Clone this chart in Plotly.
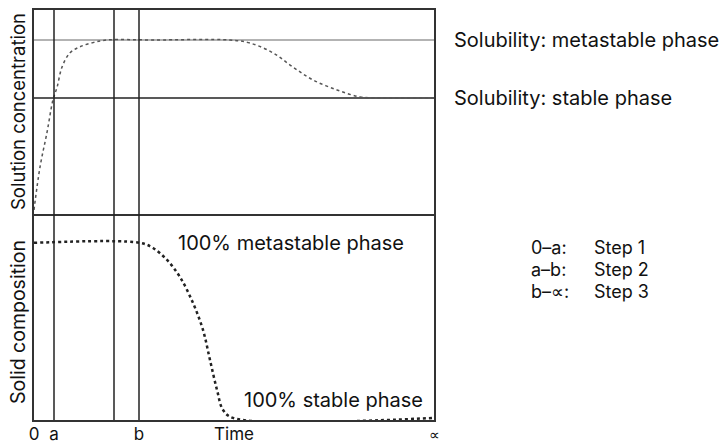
import plotly.graph_objects as go

# ---- data ----
conc_time = [0, 1.5, 3.25, 4.75, 5.75, 7, 9, 11.5, 14.75, 18.25, 30, 49, 54, 59.75, 64.75, 69.75, 75.75, 81.5, 86.5, 100]
conc_value = [0.02, 0.23, 0.40, 0.56, 0.62, 0.72, 0.79, 0.82, 0.84, 0.853, 0.853, 0.853, 0.838, 0.79, 0.72, 0.657, 0.608, 0.574, 0.569, 0.569]

solid_time = [0, 26.5, 29.75, 33.25, 36.5, 39.75, 42.25, 44, 45.75, 47.25, 49.75, 100]
solid_value = [0.86, 0.86, 0.835, 0.777, 0.694, 0.568, 0.437, 0.291, 0.146, 0.049, 0.01, 0.01]

solubility_metastable = 0.853
solubility_stable = 0.569

marker_times = [5, 20, 26.25]
tick_positions = [0, 5, 26.25, 50, 100]
tick_labels = ["0", "a", "b", "Time", "<span style='font-size:15px'>∝</span>"]

step_keys = ["0–a:", "a–b:", "b–∝:"]
step_names = ["Step 1", "Step 2", "Step 3"]

FONT = "Inter, Liberation Sans, Arial, sans-serif"
split = 206 / 410

fig = go.Figure()

# upper panel: solution concentration
fig.add_trace(go.Scatter(x=[0, 100], y=[solubility_metastable] * 2, mode="lines",
                         line=dict(color="#9a9a9a", width=1.5), xaxis="x2", yaxis="y2", showlegend=False))
fig.add_trace(go.Scatter(x=[0, 100], y=[solubility_stable] * 2, mode="lines",
                         line=dict(color="#222", width=1.5), xaxis="x2", yaxis="y2", showlegend=False))
fig.add_trace(go.Scatter(x=conc_time, y=conc_value, mode="lines", line_shape="spline",
                         line=dict(color="#555", width=1.5, dash="dot"), xaxis="x2", yaxis="y2", showlegend=False))

# lower panel: solid composition
fig.add_trace(go.Scatter(x=solid_time, y=solid_value, mode="lines", line_shape="spline",
                         line=dict(color="#222", width=2.5, dash="dot"), xaxis="x", yaxis="y", showlegend=False))

for t in marker_times:
    fig.add_shape(type="line", xref="x", yref="paper", x0=t, x1=t, y0=0, y1=1,
                  line=dict(color="#222", width=1.5))

axis_common = dict(showline=True, linecolor="#333", linewidth=1.5,
                   showgrid=False, zeroline=False)

fig.update_layout(
    width=722, height=445,
    margin=dict(l=34, r=288, t=10, b=25, autoexpand=False),
    plot_bgcolor="white", paper_bgcolor="white",
    font=dict(family=FONT, size=20, color="#111"),
    xaxis=dict(domain=[0, 1], range=[0, 100], anchor="y", tickmode="array", mirror=False,
               tickvals=tick_positions, ticktext=tick_labels, ticks="", ticklabelstandoff=-2,
               tickfont=dict(size=17), **axis_common),
    yaxis=dict(domain=[0, split], range=[0, 1], showticklabels=False, ticks="", mirror=True, **axis_common),
    xaxis2=dict(domain=[0, 1], range=[0, 100], anchor="y2", matches="x", mirror=True,
                showticklabels=False, ticks="", **axis_common),
    yaxis2=dict(domain=[split, 1], range=[0, 1], showticklabels=False, ticks="", mirror=True, **axis_common),
)

ann = []
ann.append(dict(xref="paper", yref="paper", x=-0.04, y=(split + 1) / 2, text="Solution concentration",
                textangle=-90, showarrow=False, xanchor="center", yanchor="middle", font=dict(size=18.5)))
ann.append(dict(xref="paper", yref="paper", x=-0.04, y=(420 - 322) / 410, text="Solid composition",
                textangle=-90, showarrow=False, xanchor="center", yanchor="middle", font=dict(size=19.5)))
ann.append(dict(xref="paper", yref="y2", x=1.045, y=solubility_metastable, text="Solubility: metastable phase",
                showarrow=False, xanchor="left", yanchor="middle"))
ann.append(dict(xref="paper", yref="y2", x=1.045, y=solubility_stable, text="Solubility: stable phase",
                showarrow=False, xanchor="left", yanchor="middle"))
ann.append(dict(xref="x", yref="y", x=35.5, y=0.86, text="100% metastable phase",
                showarrow=False, xanchor="left", yanchor="middle"))
ann.append(dict(xref="x", yref="y", x=52, y=0.097, text="100% stable phase",
                showarrow=False, xanchor="left", yanchor="middle"))
step_y = [(420 - 247) / 410, (420 - 269) / 410, (420 - 291) / 410]
for k, n, yy in zip(step_keys, step_names, step_y):
    ann.append(dict(xref="paper", yref="paper", x=(529 - 34) / 400, y=yy, text=k, showarrow=False,
                    xanchor="left", yanchor="middle", font=dict(size=18)))
    ann.append(dict(xref="paper", yref="paper", x=(592 - 34) / 400, y=yy, text=n, showarrow=False,
                    xanchor="left", yanchor="middle", font=dict(size=18)))
fig.update_layout(annotations=ann)

fig.write_html("out.html", config={"displayModeBar": False},
               post_script="document.body.style.margin='0';document.body.style.overflow='hidden';")
